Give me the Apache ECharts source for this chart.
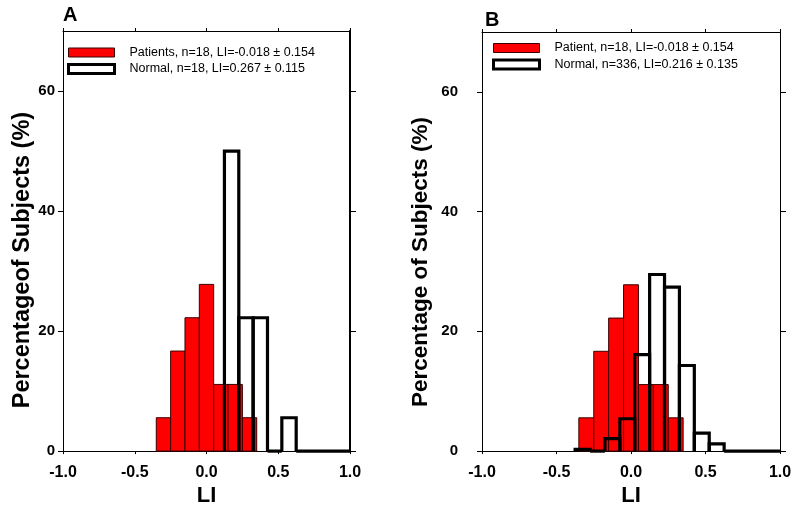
<!DOCTYPE html>
<html>
<head>
<meta charset="utf-8">
<script src="https://cdn.jsdelivr.net/npm/echarts@6/dist/echarts.min.js"></script>
<style>html,body{margin:0;padding:0;background:#fff}#c{width:800px;height:512px}</style>
</head>
<body>
<div id="c"></div>
<script>
// ---- data ----
const panelTitles = ['A', 'B'];
const xTicks = [-1.0, -0.5, 0.0, 0.5, 1.0];
const yTicks = [0, 20, 40, 60];
const xAxisTitle = 'LI';
const yAxisTitles = ['Percentageof Subjects (%)', 'Percentage of Subjects (%)'];

// Panel A
const patientNameA = 'Patients, n=18, LI=-0.018 \u00b1 0.154';
const normalNameA = 'Normal, n=18, LI=0.267 \u00b1 0.115';
const patientEdgesA = [-0.35, -0.25, -0.15, -0.05, 0.05, 0.15, 0.25, 0.35];
const patientPctA = [5.56, 16.67, 22.22, 27.78, 11.11, 11.11, 5.56];
const normalEdgesA = [0.125, 0.225, 0.325, 0.425, 0.525, 0.625, 1.0];
const normalPctA = [50.0, 22.22, 22.22, 0, 5.56, 0];

// Panel B
const patientNameB = 'Patient, n=18, LI=-0.018 \u00b1 0.154';
const normalNameB = 'Normal, n=336, LI=0.216 \u00b1 0.135';
const patientEdgesB = [-0.35, -0.25, -0.15, -0.05, 0.05, 0.15, 0.25, 0.35];
const patientPctB = [5.56, 16.67, 22.22, 27.78, 11.11, 11.11, 5.56];
const normalEdgesB = [-0.375, -0.275, -0.175, -0.075, 0.025, 0.125, 0.225, 0.325, 0.425, 0.525, 0.625, 1.0];
const normalPctB = [0.3, 0, 2.1, 5.4, 16.1, 29.5, 27.4, 14.3, 3.0, 1.2, 0];

// ---- helpers ----
function bins(edges, vals) {
  return vals.map((v, i) => [edges[i], edges[i + 1], v]);
}
const FONT = "'Liberation Sans', Arial, sans-serif";
const RED = '#ff0000';

function redRender(params, api) {
  const p0 = api.coord([api.value(0), api.value(2)]);
  const p1 = api.coord([api.value(1), 0]);
  return {
    type: 'rect',
    shape: { x: p0[0], y: p0[1], width: p1[0] - p0[0], height: p1[1] - p0[1] },
    style: { fill: RED, stroke: '#3a0000', lineWidth: 1 }
  };
}
function outlineRender(params, api) {
  const a = api.coord([api.value(0), 0]);
  const b = api.coord([api.value(0), api.value(2)]);
  const c = api.coord([api.value(1), api.value(2)]);
  const d = api.coord([api.value(1), 0]);
  return {
    type: 'polyline',
    shape: { points: [a, b, c, d] },
    style: { fill: null, stroke: '#000', lineWidth: 3.2, lineJoin: 'miter' },
    z2: 10
  };
}

function xAxisPair(gridIndex) {
  return [
    {
      type: 'value', gridIndex, position: 'bottom', min: -1, max: 1, interval: 0.5,
      axisLine: { onZero: false, lineStyle: { color: '#000', width: 1 } },
      axisTick: { show: true, inside: false, length: 3, lineStyle: { color: '#000' }, customValues: xTicks },
      axisLabel: { customValues: xTicks, formatter: v => v.toFixed(1), color: '#000', fontFamily: FONT,
        fontWeight: 'bold', fontSize: 16, margin: 13 },
      splitLine: { show: false },
      name: xAxisTitle, nameLocation: 'middle', nameGap: 29,
      nameTextStyle: { color: '#000', fontFamily: FONT, fontWeight: 'bold', fontSize: 22 }
    },
    {
      type: 'value', gridIndex, position: 'top', min: -1, max: 1, interval: 0.5,
      axisLine: { onZero: false, lineStyle: { color: '#000', width: 1 } },
      axisTick: { show: true, inside: false, length: 3, lineStyle: { color: '#000' }, customValues: xTicks },
      axisLabel: { show: false },
      splitLine: { show: false }
    }
  ];
}
function yAxisPair(gridIndex, title, fs, gap, labelMargin, shift, rightWidth) {
  return [
    {
      type: 'value', gridIndex, position: 'left', min: 0, max: 70, interval: 20,
      axisLine: { onZero: false, lineStyle: { color: '#000', width: 1 } },
      axisTick: { show: true, inside: false, length: 5, lineStyle: { color: '#000' }, customValues: yTicks },
      axisLabel: { customValues: yTicks, color: '#000', fontFamily: FONT, fontWeight: 'bold', fontSize: 15, margin: labelMargin },
      splitLine: { show: false },
      name: title, nameLocation: 'middle', nameGap: gap, nameRotate: 90,
      nameTextStyle: { color: '#000', fontFamily: FONT, fontWeight: 'bold', fontSize: fs, padding: [0, shift, 0, 0] }
    },
    {
      type: 'value', gridIndex, position: 'right', min: 0, max: 70, interval: 20,
      axisLine: { onZero: false, lineStyle: { color: '#000', width: rightWidth } },
      axisTick: { show: true, inside: false, length: 6, lineStyle: { color: '#000' }, customValues: yTicks },
      axisLabel: { show: false },
      splitLine: { show: false }
    }
  ];
}

const option = {
  animation: false,
  backgroundColor: '#fff',
  title: [
    { text: panelTitles[0], left: 63, top: 5, padding: 0, textStyle: { fontFamily: FONT, fontWeight: 'bold', fontSize: 20, color: '#000' } },
    { text: panelTitles[1], left: 485, top: 10, padding: 0, textStyle: { fontFamily: FONT, fontWeight: 'bold', fontSize: 20, color: '#000' } }
  ],
  grid: [
    { left: 63, right: 450, top: 31, bottom: 59 },
    { left: 482, right: 20, top: 32, bottom: 60 }
  ],
  xAxis: [...xAxisPair(0), ...xAxisPair(1)],
  yAxis: [
    ...yAxisPair(0, yAxisTitles[0], 23.5, 28, 8, 38, 2),
    ...yAxisPair(1, yAxisTitles[1], 22.5, 50, 24, 41, 1)
  ],
  legend: [
    {
      orient: 'vertical', left: 67, top: 46, padding: 0, itemWidth: 46, itemHeight: 9, itemGap: 3.5, icon: 'rect',
      textStyle: { fontFamily: FONT, fontSize: 12.5, color: '#000', padding: [0, 0, 0, 10], lineHeight: 12 },
      data: [
        { name: patientNameA, itemStyle: { color: RED, borderColor: '#3a0000', borderWidth: 1 } },
        { name: normalNameA, itemStyle: { color: '#fff', borderColor: '#000', borderWidth: 3 } }
      ]
    },
    {
      orient: 'vertical', left: 492, top: 41.5, padding: 0, itemWidth: 46, itemHeight: 9, itemGap: 3.5, icon: 'rect',
      textStyle: { fontFamily: FONT, fontSize: 12.5, color: '#000', padding: [0, 0, 0, 10], lineHeight: 12 },
      data: [
        { name: patientNameB, itemStyle: { color: RED, borderColor: '#3a0000', borderWidth: 1 } },
        { name: normalNameB, itemStyle: { color: '#fff', borderColor: '#000', borderWidth: 3 } }
      ]
    }
  ],
  series: [
    { type: 'custom', name: patientNameA, xAxisIndex: 0, yAxisIndex: 0, renderItem: redRender,
      itemStyle: { color: RED }, encode: { x: [0, 1], y: 2 }, data: bins(patientEdgesA, patientPctA) },
    { type: 'custom', name: normalNameA, xAxisIndex: 0, yAxisIndex: 0, renderItem: outlineRender,
      itemStyle: { color: '#fff' }, encode: { x: [0, 1], y: 2 }, data: bins(normalEdgesA, normalPctA) },
    { type: 'custom', name: patientNameB, xAxisIndex: 2, yAxisIndex: 2, renderItem: redRender,
      itemStyle: { color: RED }, encode: { x: [0, 1], y: 2 }, data: bins(patientEdgesB, patientPctB) },
    { type: 'custom', name: normalNameB, xAxisIndex: 2, yAxisIndex: 2, renderItem: outlineRender,
      itemStyle: { color: '#fff' }, encode: { x: [0, 1], y: 2 }, data: bins(normalEdgesB, normalPctB) }
  ]
};

const chart = echarts.init(document.getElementById('c'), null, { renderer: 'canvas' });
chart.setOption(option);
</script>
</body>
</html>
